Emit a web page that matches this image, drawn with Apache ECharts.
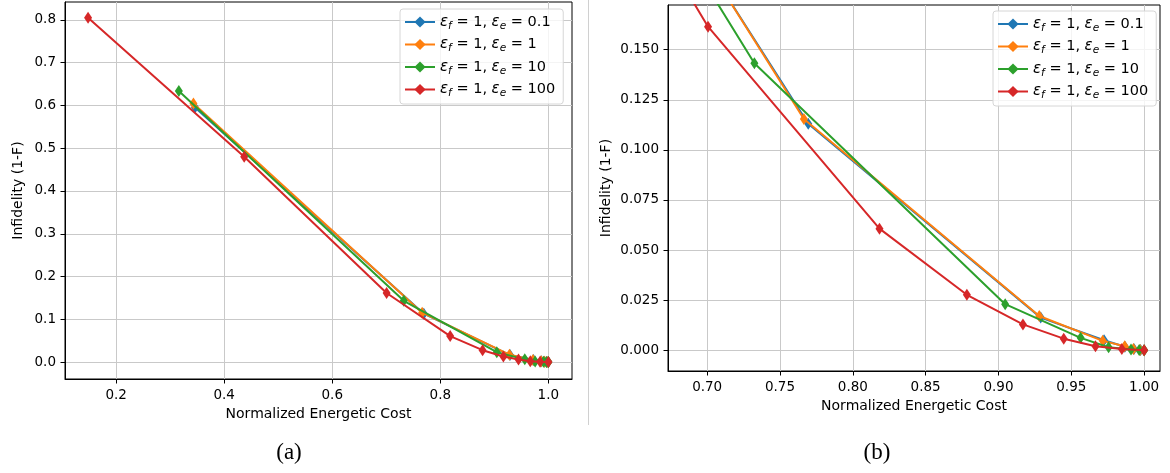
<!DOCTYPE html>
<html><head><meta charset="utf-8">
<script src="https://cdn.jsdelivr.net/npm/echarts@6/dist/echarts.min.js"></script>
<style>html,body{margin:0;padding:0;background:#fff}#c{width:1170px;height:473px}</style>
</head><body><div id="c"></div>
<script>
// ---- data ----
const epsE = ['0.1', '1', '10', '100'];
const colors = ['#1f77b4', '#ff7f0e', '#2ca02c', '#d62728'];

const costE01 = [0.346, 0.7694, 0.929, 0.9725, 0.9868, 0.993, 0.9975, 1.0];
const infE01  = [0.595, 0.113, 0.0163, 0.0050, 0.0018, 0.0006, 0.0002, 0.0];

const costE1 = [0.343, 0.7664, 0.928, 0.9716, 0.9867, 0.9927, 0.9972, 1.0];
const infE1  = [0.6045, 0.1154, 0.0171, 0.0047, 0.0020, 0.0007, 0.0002, 0.0];

const costE10 = [0.316, 0.7324, 0.9046, 0.9564, 0.9756, 0.991, 0.9966, 1.0];
const infE10  = [0.634, 0.1432, 0.0230, 0.0062, 0.0015, 0.0004, 0.0001, 0.0];

const costE100 = [0.148, 0.437, 0.7006, 0.8183, 0.8783, 0.9168, 0.9448, 0.9666, 0.9847, 1.0];
const infE100  = [0.805, 0.480, 0.1615, 0.0607, 0.0277, 0.0129, 0.0058, 0.0020, 0.0006, 0.0];

const leftXTicks = [0.2, 0.4, 0.6, 0.8, 1.0];
const leftYTicks = [0.0, 0.1, 0.2, 0.3, 0.4, 0.5, 0.6, 0.7, 0.8];
const rightXTicks = [0.70, 0.75, 0.80, 0.85, 0.90, 0.95, 1.00];
const rightYTicks = [0.000, 0.025, 0.050, 0.075, 0.100, 0.125, 0.150];

const xLabel = 'Normalized Energetic Cost';
const yLabel = 'Infidelity (1-F)';
const captions = ['(a)', '(b)'];

// ---- build ----
const costs = [costE01, costE1, costE10, costE100];
const infs = [infE01, infE1, infE10, infE100];
const pairs = costs.map((c, i) => c.map((x, j) => [x, infs[i][j]]));

const FONT = 'DejaVu Sans';
const gridColor = '#c9c9c9';
const TICK_FS = 13.5;
const NAME_FS = 14;

function xAxisDef(gridIndex, min, max, ticks, dec, gap) {
  return {
    type: 'value', gridIndex, min, max,
    axisLine: { show: true, onZero: false, lineStyle: { color: '#000', width: 1 } },
    axisTick: { show: true, inside: false, length: 4.5, customValues: ticks, lineStyle: { color: '#000' } },
    axisLabel: { customValues: ticks, margin: 9, fontSize: TICK_FS, fontFamily: FONT, color: '#000',
                 formatter: v => Number(v).toFixed(dec) },
    splitLine: { show: true, lineStyle: { color: gridColor, width: 1 } },
    name: xLabel, nameLocation: 'middle', nameGap: gap,
    nameTextStyle: { fontSize: NAME_FS, fontFamily: FONT, color: '#000' }
  };
}
function yAxisDef(gridIndex, min, max, ticks, dec, gap) {
  return {
    type: 'value', gridIndex, min, max,
    axisLine: { show: true, onZero: false, lineStyle: { color: '#000', width: 1 } },
    axisTick: { show: true, inside: false, length: 4.5, customValues: ticks, lineStyle: { color: '#000' } },
    axisLabel: { customValues: ticks, margin: 9, fontSize: TICK_FS, fontFamily: FONT, color: '#000',
                 formatter: v => Number(v).toFixed(dec) },
    splitLine: { show: true, lineStyle: { color: gridColor, width: 1 } },
    name: yLabel, nameLocation: 'middle', nameGap: gap,
    nameTextStyle: { fontSize: NAME_FS, fontFamily: FONT, color: '#000' }
  };
}

const series = [];
[0, 1].forEach(g => {
  pairs.forEach((d, i) => {
    series.push({
      name: epsE[i], type: 'line', xAxisIndex: g, yAxisIndex: g, data: d,
      symbol: 'diamond', symbolSize: [8, 12], showSymbol: true, clip: true,
      color: colors[i], itemStyle: { color: colors[i] },
      lineStyle: { color: colors[i], width: 2 }, z: 2 + i, animation: false
    });
  });
});

function legendDef(left, top) {
  return {
    orient: 'vertical', left, top, data: epsE,
    itemWidth: 30, itemHeight: 14, itemGap: 5,
    padding: [5, 8, 5, 4],
    backgroundColor: 'rgba(255,255,255,0.8)', borderColor: '#d6d6d6', borderWidth: 1, borderRadius: 3,
    selectedMode: false,
    formatter: n => '{e|ε}{s|f}{t| = 1, }{e|ε}{s|e}{t| = ' + n + '}',
    textStyle: {
      fontSize: 14.5, fontFamily: FONT, color: '#000', lineHeight: 16,
      rich: {
        e: { fontSize: 15, fontStyle: 'italic', fontFamily: FONT, color: '#000' },
        s: { fontSize: 10.5, fontStyle: 'italic', fontFamily: FONT, color: '#000', padding: [8, 0, 0, 0] },
        t: { fontSize: 14.5, fontFamily: FONT, color: '#000' }
      }
    }
  };
}

const chart = echarts.init(document.getElementById('c'), null, { renderer: 'canvas' });
chart.setOption({
  animation: false,
  backgroundColor: '#fff',
  grid: [
    { left: 65, top: 2, width: 507, height: 377, show: true, borderColor: '#000', borderWidth: 1, containLabel: false },
    { left: 668, top: 5, width: 492, height: 366, show: true, borderColor: '#000', borderWidth: 1, containLabel: false }
  ],
  xAxis: [
    xAxisDef(0, 0.1053, 1.0438, leftXTicks, 1, 28),
    xAxisDef(1, 0.6731, 1.0109, rightXTicks, 2, 26)
  ],
  yAxis: [
    yAxisDef(0, -0.0397, 0.842, leftYTicks, 1, 40),
    yAxisDef(1, -0.01034, 0.1723, rightYTicks, 3, 55)
  ],
  legend: [legendDef(400, 9), legendDef(993, 11)],
  series,
  graphic: [
    { type: 'line', shape: { x1: 588.5, y1: 0, x2: 588.5, y2: 425 }, style: { stroke: '#d0d0d0', lineWidth: 1 } },
    { type: 'text', x: 289, y: 453, style: { text: captions[0], font: '23px "Liberation Serif"', fill: '#000', textAlign: 'center', textVerticalAlign: 'middle' } },
    { type: 'text', x: 877, y: 453, style: { text: captions[1], font: '23px "Liberation Serif"', fill: '#000', textAlign: 'center', textVerticalAlign: 'middle' } }
  ]
});
</script></body></html>
